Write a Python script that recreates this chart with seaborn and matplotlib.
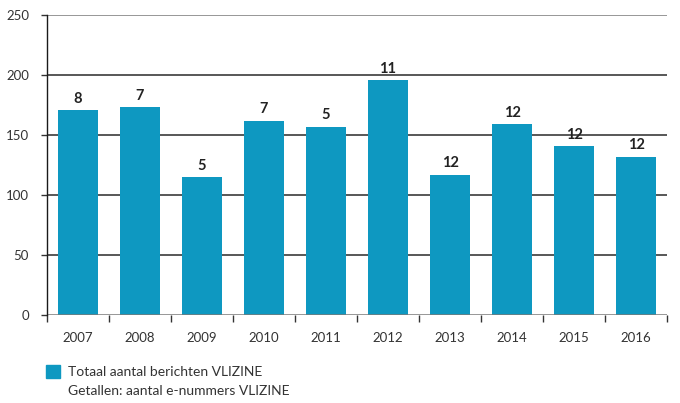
import numpy as np
import pandas as pd
import matplotlib
matplotlib.use("Agg")
import matplotlib.pyplot as plt
from matplotlib.patches import Rectangle
import seaborn as sns

# Data
years = ["2007", "2008", "2009", "2010", "2011", "2012", "2013", "2014", "2015", "2016"]
total_messages = [171, 173, 115, 162, 157, 196, 117, 159, 141, 132]
e_issues = [8, 7, 5, 7, 5, 11, 12, 12, 12, 12]
y_ticks = [0, 50, 100, 150, 200, 250]

bar_color = "#0e98c1"
text_color = "#333333"

sns.set_theme(style="white")
plt.rcParams["font.family"] = ["Lato", "DejaVu Sans"]

df = pd.DataFrame({"jaar": years, "berichten": total_messages})

fig = plt.figure(figsize=(6.8, 4.03), dpi=100)
ax = fig.add_axes([47 / 680, 1 - 315 / 403, 620 / 680, 300 / 403])

sns.barplot(data=df, x="jaar", y="berichten", color=bar_color, width=0.63,
            saturation=1, linewidth=0, edgecolor=bar_color, ax=ax)
for p in ax.patches:
    p.set_zorder(3)

ax.set_xlim(-0.5, len(years) - 0.5)
ax.set_ylim(0, 250)
ax.set_xlabel("")
ax.set_ylabel("")

# horizontal gridlines behind the bars
for v in y_ticks:
    col = "#7a7a7a" if v in (0, 250) else "#2a2a2a"
    ax.axhline(v, color=col, lw=1.1, zorder=1 if v != 0 else 4)

# spines
for s in ["top", "right", "bottom"]:
    ax.spines[s].set_visible(False)
ax.spines["left"].set_color("#1a1a1a")
ax.spines["left"].set_linewidth(1.0)
ax.spines["left"].set_zorder(5)

ax.set_yticks(y_ticks)
ax.set_yticklabels([str(v) for v in y_ticks])
ax.tick_params(axis="y", length=4, width=1, color="#333333", pad=9,
               labelsize=9.5, labelcolor=text_color, left=True)

# category labels centred, tick marks on boundaries
ax.set_xticks(range(len(years)))
ax.set_xticklabels(years)
ax.tick_params(axis="x", which="major", length=0, pad=12, labelsize=9.5,
               labelcolor=text_color)
ax.set_xticks(np.arange(-0.5, len(years), 1.0), minor=True)
ax.tick_params(axis="x", which="minor", length=5, width=1, color="#333333",
               bottom=True)

# number of e-issues above each bar
for i, (val, n) in enumerate(zip(total_messages, e_issues)):
    ax.annotate(str(n), (i, val), xytext=(0, 3), textcoords="offset points",
                ha="center", va="bottom", fontsize=10.5, fontweight="bold",
                color="#222222", zorder=5)

# legend
fig.patches.append(Rectangle((46 / 680, 1 - 378 / 403), 14 / 680, 13 / 403,
                             transform=fig.transFigure, color=bar_color))
fig.text(68 / 680, 1 - 372 / 403, "Totaal aantal berichten VLIZINE",
         fontsize=10, color=text_color, va="center", ha="left")
fig.text(68 / 680, 1 - 391 / 403, "Getallen: aantal e-nummers VLIZINE",
         fontsize=10, color=text_color, va="center", ha="left")

fig.savefig("out.png", dpi=100)
